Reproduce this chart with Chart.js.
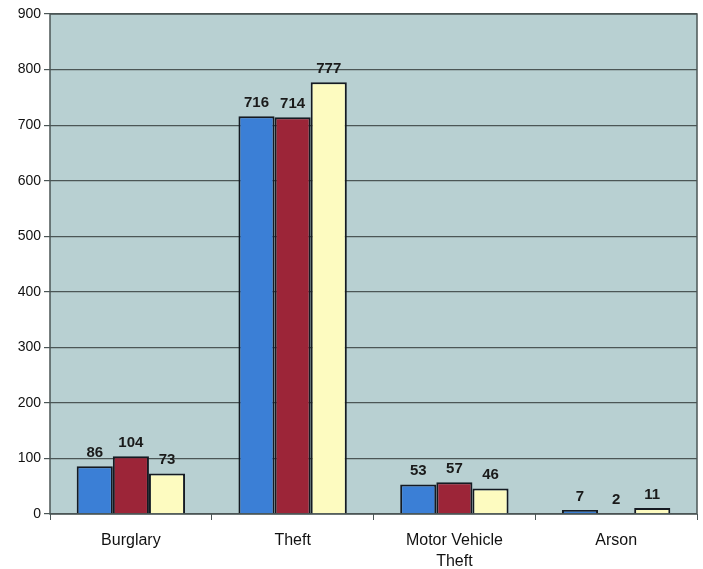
<!DOCTYPE html>
<html>
<head>
<meta charset="utf-8">
<script src="https://cdn.jsdelivr.net/npm/chart.js@4/dist/chart.umd.min.js"></script>
<style>
  html, body { margin: 0; padding: 0; background: #fff; }
  #wrap { width: 703px; height: 569px; }
</style>
</head>
<body>
<div id="wrap"><canvas id="canvas" width="703" height="569"></canvas></div>
<script>
const categories = [['Burglary'], ['Theft'], ['Motor Vehicle', 'Theft'], ['Arson']]
const seriesA = [86, 716, 53, 7]
const seriesB = [104, 714, 57, 2]
const seriesC = [73, 777, 46, 11]
const yTicks = [0, 100, 200, 300, 400, 500, 600, 700, 800, 900]

// plot background, frame and value labels
const plotDecor = {
    id: 'plotDecor',
    beforeDraw: (chart) => {
        const { ctx, chartArea: a } = chart
        ctx.save()
        ctx.fillStyle = '#b8d0d2'
        ctx.fillRect(a.left, a.top, a.right - a.left, a.bottom - a.top)
        ctx.restore()
    },
    afterDatasetsDraw: (chart) => {
        const { ctx, chartArea: a } = chart
        ctx.save()
        ctx.strokeStyle = '#4b5656'
        ctx.lineWidth = 1.5
        ctx.strokeRect(a.left, a.top, a.right - a.left, a.bottom - a.top)
        ctx.font = 'bold 15px "Liberation Sans", Arial, sans-serif'
        ctx.fillStyle = '#1a1a1a'
        ctx.textAlign = 'center'
        ctx.textBaseline = 'bottom'
        chart.data.datasets.forEach((ds, i) => {
            chart.getDatasetMeta(i).data.forEach((bar, j) => {
                ctx.fillText(String(ds.data[j]), bar.x, bar.y - 6)
            })
        })
        ctx.restore()
    }
}

const ctx = document.getElementById('canvas').getContext('2d')

const chart = new Chart(ctx, {
    type: 'bar',
    data: {
        labels: categories,
        datasets: [
            { label: 'A', data: seriesA, backgroundColor: '#3b7fd6', borderColor: '#151a22', borderWidth: 2 },
            { label: 'B', data: seriesB, backgroundColor: '#9c2538', borderColor: '#151a22', borderWidth: 2 },
            { label: 'C', data: seriesC, backgroundColor: '#fdfbc0', borderColor: '#151a22', borderWidth: 2 }
        ]
    },
    options: {
        responsive: false,
        animation: false,
        layout: { padding: { top: 14, right: 6, left: 0, bottom: 0 } },
        plugins: {
            legend: { display: false },
            tooltip: { enabled: false }
        },
        datasets: {
            bar: { categoryPercentage: 0.67, barPercentage: 1.0 }
        },
        scales: {
            x: {
                grid: { offset: true, drawOnChartArea: false, tickLength: 6, color: '#4b5656' },
                border: { display: false },
                ticks: {
                    color: '#111',
                    font: { family: '"Liberation Sans", Arial, sans-serif', size: 16, lineHeight: 1.3 },
                    padding: 10,
                    maxRotation: 0
                },
                afterFit: (scale) => { scale.height = 55 }
            },
            y: {
                min: 0,
                max: 900,
                afterBuildTicks: (scale) => { scale.ticks = yTicks.map(v => ({ value: v })) },
                grid: { color: '#4b5656', lineWidth: 1.2, tickLength: 6 },
                border: { display: false },
                ticks: {
                    color: '#111',
                    font: { family: '"Liberation Sans", Arial, sans-serif', size: 14 },
                    padding: 3
                },
                afterFit: (scale) => { scale.width = 50 }
            }
        }
    },
    plugins: [plotDecor]
})
</script>
</body>
</html>
